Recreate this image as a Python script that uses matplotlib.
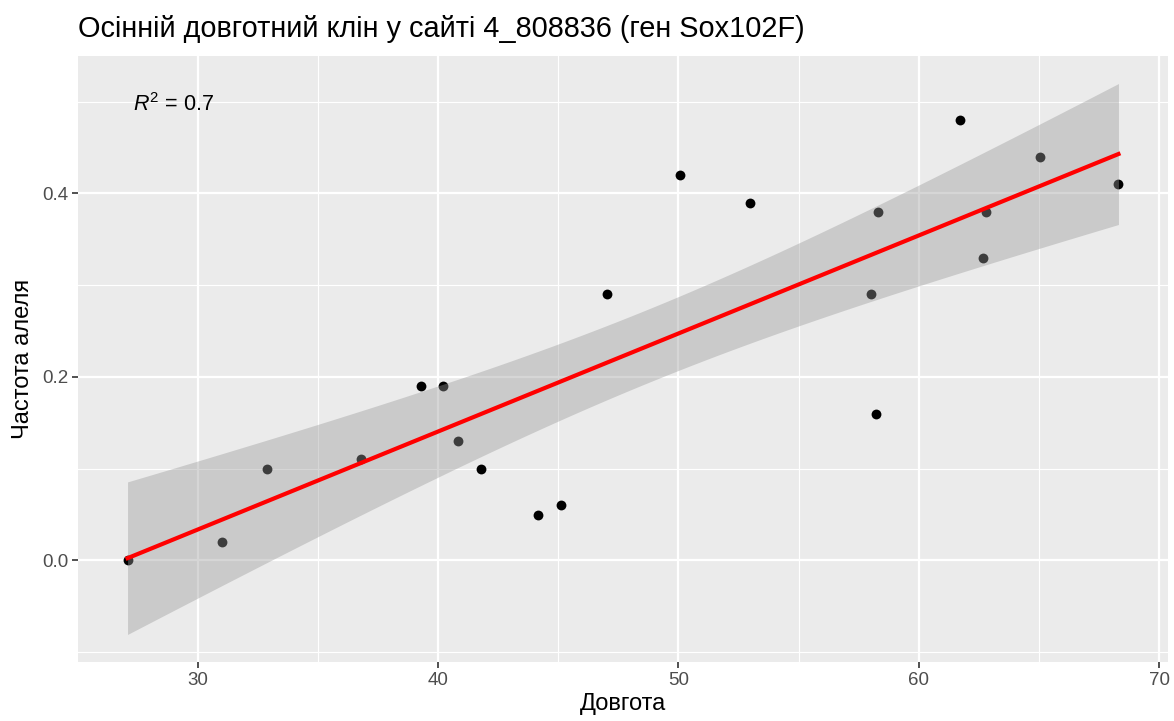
import numpy as np
import matplotlib.pyplot as plt
from matplotlib.ticker import MultipleLocator

plt.rcParams['font.family'] = ['Liberation Sans', 'DejaVu Sans']
plt.rcParams['mathtext.fontset'] = 'custom'
plt.rcParams['mathtext.rm'] = 'Liberation Sans'
plt.rcParams['mathtext.it'] = 'Liberation Sans:italic'

longitude = [27.09, 31.0, 32.87, 36.78, 39.31, 40.19, 40.85, 41.77, 44.18, 45.13,
             47.05, 50.08, 52.99, 58.02, 58.23, 58.32, 61.73, 62.68, 62.81, 65.05, 68.3]
allele_freq = [0.0, 0.02, 0.10, 0.11, 0.19, 0.19, 0.13, 0.10, 0.05, 0.06,
               0.29, 0.42, 0.39, 0.29, 0.16, 0.38, 0.48, 0.33, 0.38, 0.44, 0.41]

title = "Осінній довготний клін у сайті 4_808836 (ген Sox102F)"
xlabel = "Довгота"
ylabel = "Частота алеля"
r2_label = r"$R^2$ = 0.7"

x = np.array(longitude)
y = np.array(allele_freq)
n = len(x)

# linear fit with 95% confidence band (like geom_smooth(method = "lm"))
slope, intercept = np.polyfit(x, y, 1)
resid = y - (intercept + slope * x)
s = np.sqrt(np.sum(resid ** 2) / (n - 2))
t_crit = 2.093  # t(0.975, df=19)
xs = np.linspace(x.min(), x.max(), 80)
fit = intercept + slope * xs
se = s * np.sqrt(1 / n + (xs - x.mean()) ** 2 / np.sum((x - x.mean()) ** 2))
lo, hi = fit - t_crit * se, fit + t_crit * se

fig = plt.figure(figsize=(11.74, 7.21), dpi=100)
ax = fig.add_axes([78 / 1174, 1 - 662 / 721, (1168 - 78) / 1174, (662 - 56) / 721])
ax.set_facecolor('#EBEBEB')

ax.scatter(x, y, s=50, color='black', zorder=3, linewidths=0)
ax.fill_between(xs, lo, hi, color='#999999', alpha=0.4, linewidth=0, zorder=4)
ax.plot(xs, fit, color='red', lw=3, zorder=5)

ax.text(29.0, 0.497, r2_label, ha='center', va='center', fontsize=15.5, color='black')

xr = x.max() - x.min()
ax.set_xlim(x.min() - 0.05 * xr, x.max() + 0.05 * xr)
ymin, ymax = lo.min(), hi.max()
yr = ymax - ymin
ax.set_ylim(ymin - 0.05 * yr, ymax + 0.05 * yr)

ax.xaxis.set_major_locator(MultipleLocator(10))
ax.xaxis.set_minor_locator(MultipleLocator(5))
ax.yaxis.set_major_locator(MultipleLocator(0.2))
ax.yaxis.set_minor_locator(MultipleLocator(0.1))
ax.yaxis.set_major_formatter(lambda v, p: f"{v:.1f}")

ax.grid(which='major', color='white', lw=1.6)
ax.grid(which='minor', color='white', lw=0.8)
ax.set_axisbelow(True)
for sp in ax.spines.values():
    sp.set_visible(False)
ax.tick_params(which='major', length=4, width=1.2, color='#333333',
               labelcolor='#4D4D4D', labelsize=13.5, pad=3)
ax.tick_params(which='minor', length=0)

ax.set_xlabel(xlabel, fontsize=17, labelpad=3)
ax.set_ylabel(ylabel, fontsize=17, labelpad=6)
fig.text(78 / 1174, 1 - 29 / 721, title, fontsize=20.8, ha='left', va='center')

fig.savefig('out.png', dpi=100)
